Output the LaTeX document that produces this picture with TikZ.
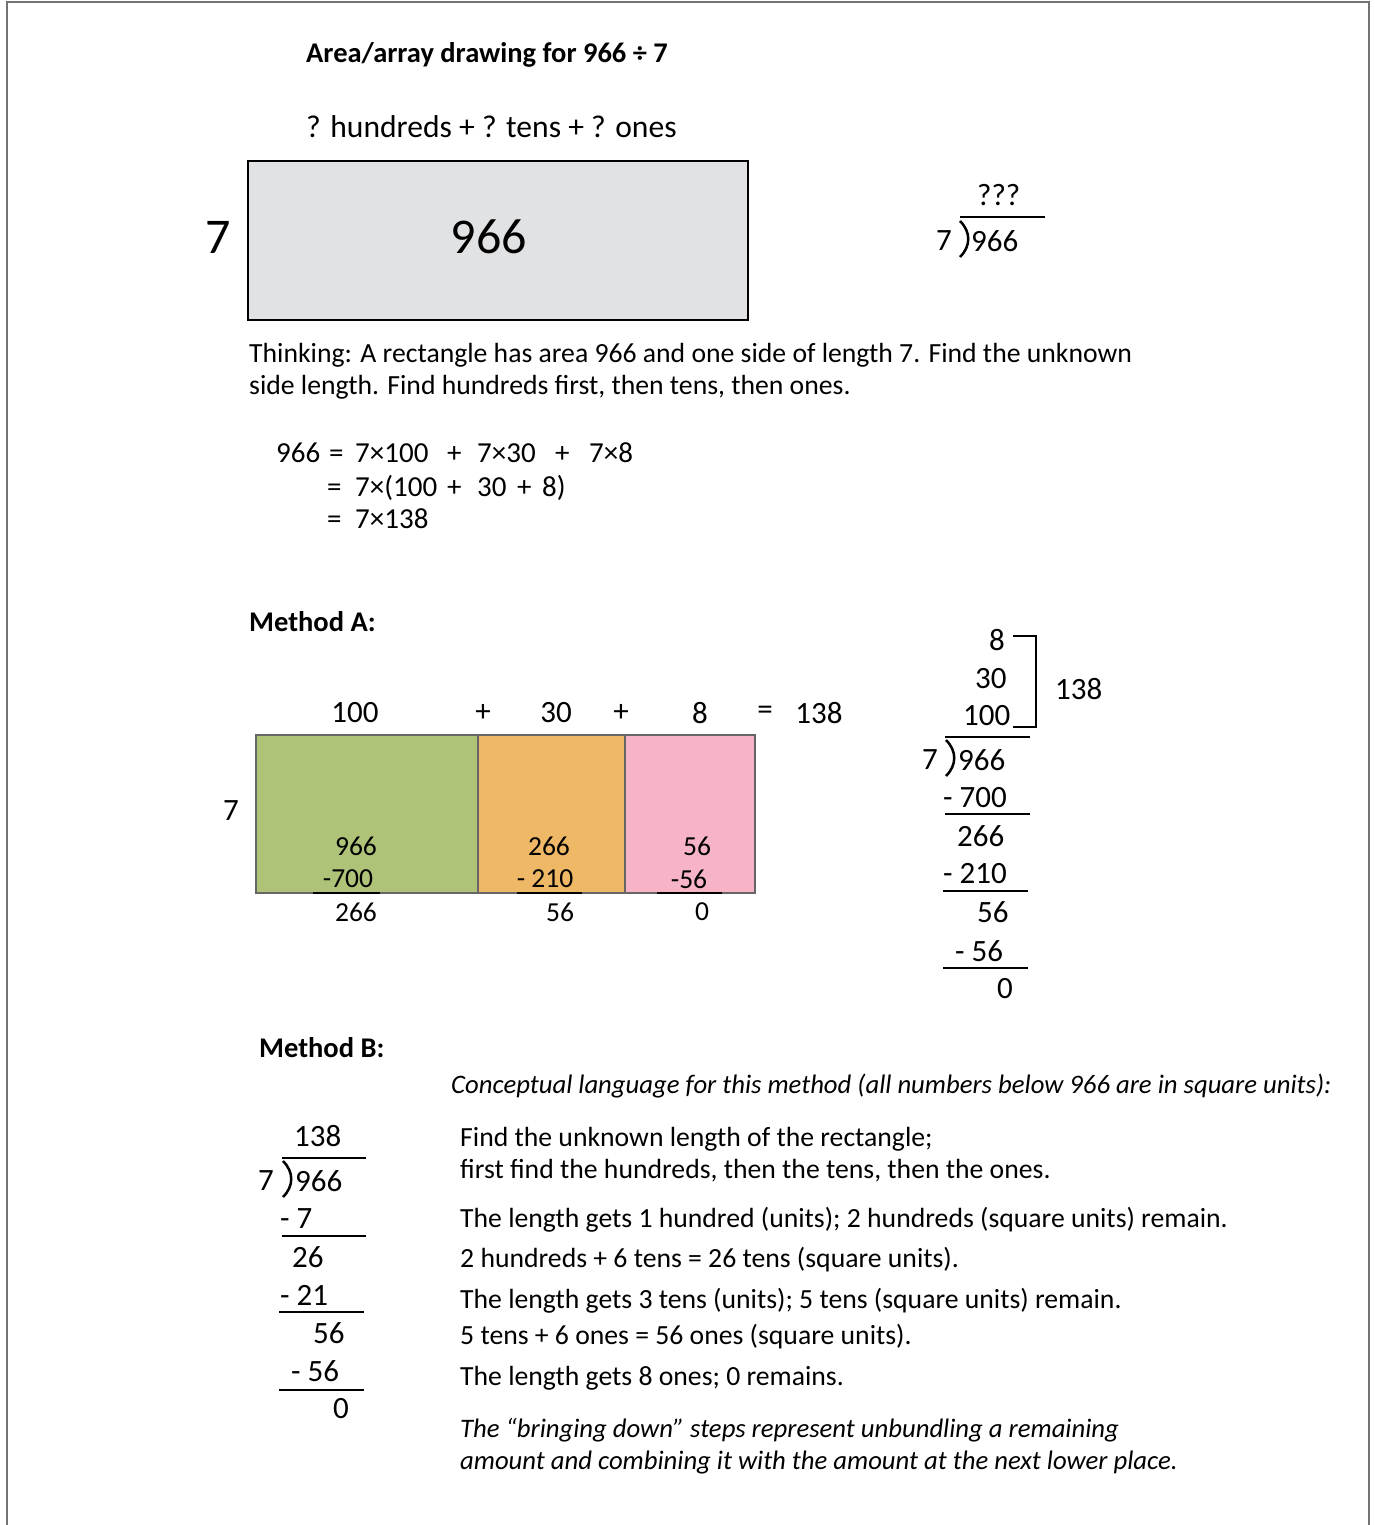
\documentclass[tikz,border=0pt]{standalone}
\usepackage{fontspec}
\setmainfont{Carlito}
\definecolor{areagray}{HTML}{E1E2E4}
\definecolor{hundredsgreen}{HTML}{AFC378}
\definecolor{tensorange}{HTML}{EFB867}
\definecolor{onespink}{HTML}{F7B4C6}
\tikzset{
  txt/.style={inner sep=0pt, anchor=base west, font=\fontsize{27.7}{33}\selectfont},
  note/.style={txt, font=\itshape\fontsize{26.7}{32}\selectfont},
  head/.style={inner sep=0pt, anchor=base west, font=\bfseries\fontsize{28.5}{34}\selectfont},
  num/.style={inner sep=0pt, anchor=west, font=\fontsize{31}{37}\selectfont},
  cell/.style={inner sep=0pt, font=\fontsize{27.5}{33}\selectfont},
  bar/.style={line width=2.5pt},
  hook/.style={line width=2.5pt},
  part/.style={draw=black!60, line width=2pt},
}
\begin{document}
\begin{tikzpicture}[x=1pt,y=-1pt]
\useasboundingbox (0,0) rectangle (1374,1525);
\draw[black!55, line width=1.5pt] (7,1525) -- (7,2) -- (1369,2) -- (1369,1525);

% area drawing
\node[head] (title) at (306,63) {Area/array drawing for 966 ÷ 7};
\node[txt, font=\fontsize{31.6}{38}\selectfont] (unknown) at (306,138) {? hundreds + ? tens + ? ones};
\draw[line width=2pt, fill=areagray] (248,161) rectangle (748,320);
\node[inner sep=0pt, font=\fontsize{50}{56}\selectfont] (area) at (489,237) {966};
\node[inner sep=0pt, font=\fontsize{50}{56}\selectfont] (side) at (218,237) {7};

\node[num] (q1) at (977,195) {???};
\node[num] (d1) at (936,241) {7};
\node[num] (n1) at (971,241) {966};
\draw[bar] (960,217) -- (1045,217);
\draw[hook] (960,221) .. controls (971,232) and (971,246) .. (960,257);

\node[txt] (think1) at (249,362) {Thinking: A rectangle has area 966 and one side of length 7. Find the unknown};
\node[txt] (think2) at (249,394) {side length. Find hundreds first, then tens, then ones.};

\foreach \x/\t [count=\i] in {276/966, 329/=, 355/7×100, 447/+, 477/7×30, 555/+, 589/7×8}
  \node[txt, font=\fontsize{29}{35}\selectfont] (eqa\i) at (\x,462) {\t};
\foreach \x/\t [count=\i] in {327/=, 355/7×(100, 447/+, 477/30, 517/+, 542/8)}
  \node[txt, font=\fontsize{29}{35}\selectfont] (eqb\i) at (\x,496) {\t};
\foreach \x/\t [count=\i] in {327/=, 355/7×138}
  \node[txt, font=\fontsize{29}{35}\selectfont] (eqc\i) at (\x,528) {\t};

% method A
\node[head] (methA) at (249,631) {Method A:};
\foreach \x/\t [count=\i] in {355/100, 483/+, 556/30, 621/+, 700/8, 765/=, 819/138}
  \node[cell, font=\fontsize{31}{37}\selectfont] (top\i) at (\x,713) {\t};
\node[cell, font=\fontsize{31}{37}\selectfont] (width) at (231,811) {7};
\draw[part, fill=hundredsgreen] (256,735) rectangle (478,893);
\draw[part, fill=tensorange] (478,735) rectangle (625,893);
\draw[part, fill=onespink] (625,735) rectangle (755,893);
\node[cell] (g1) at (356,846) {966};
\node[cell] (g2) at (348,879) {-700};
\node[cell] (g3) at (356,912) {266};
\node[cell] (o1) at (549,846) {266};
\node[cell] (o2) at (545,879) {- 210};
\node[cell] (o3) at (560,912) {56};
\node[cell] (p1) at (697,846) {56};
\node[cell] (p2) at (689,879) {-56};
\node[cell] (p3) at (702,912) {0};
\draw[bar] (313,893) -- (380,893);
\draw[bar] (517,893) -- (582,893);
\draw[bar] (657,893) -- (722,893);

\node[num] (a8) at (989,640) {8};
\node[num] (a30) at (975,679) {30};
\node[num] (a100) at (963,716) {100};
\draw[line width=1.5pt] (1013,636) -- (1036,636) -- (1036,727) -- (1013,727);
\node[num] (asum) at (1055,689) {138};
\draw[bar] (945,737) -- (1030,737);
\draw[hook] (946,740) .. controls (957,751) and (957,765) .. (946,776);
\node[num] (ad) at (922,760) {7};
\node[num] (an) at (958,760) {966};
\node[num] (as1) at (943,798) {- 700};
\draw[bar] (945,814) -- (1030,814);
\node[num] (ar1) at (957,836) {266};
\node[num] (as2) at (943,874) {- 210};
\draw[bar] (943,891) -- (1028,891);
\node[num] (ar2) at (977,912) {56};
\node[num] (as3) at (955,951) {- 56};
\draw[bar] (943,968) -- (1028,968);
\node[num] (ar3) at (997,989) {0};

% method B
\node[head] (methB) at (259,1057) {Method B:};
\node[note] (concept) at (451,1093) {Conceptual language for this method (all numbers below 966 are in square units):};

\node[num] (bq) at (294,1136) {138};
\draw[bar] (282,1158) -- (366,1158);
\draw[hook] (283,1161) .. controls (294,1172) and (294,1186) .. (283,1197);
\node[num] (bd) at (258,1181) {7};
\node[num] (bn) at (295,1181) {966};
\node[num] (bs1) at (280,1219) {- 7};
\draw[bar] (282,1236) -- (366,1236);
\node[num] (br1) at (292,1257) {26};
\node[num] (bs2) at (280,1295) {- 21};
\draw[bar] (279,1312) -- (364,1312);
\node[num] (br2) at (313,1333) {56};
\node[num] (bs3) at (291,1371) {- 56};
\draw[bar] (279,1390) -- (364,1390);
\node[num] (br3) at (333,1409) {0};

\node[txt] (step1) at (460,1146) {Find the unknown length of the rectangle;};
\node[txt] (step2) at (460,1178) {first find the hundreds, then the tens, then the ones.};
\node[txt] (step3) at (460,1227) {The length gets 1 hundred (units); 2 hundreds (square units) remain.};
\node[txt] (step4) at (460,1267) {2 hundreds + 6 tens = 26 tens (square units).};
\node[txt] (step5) at (460,1308) {The length gets 3 tens (units); 5 tens (square units) remain.};
\node[txt] (step6) at (460,1344) {5 tens + 6 ones = 56 ones (square units).};
\node[txt] (step7) at (460,1385) {The length gets 8 ones; 0 remains.};
\node[note] (note1) at (460,1437) {The “bringing down” steps represent unbundling a remaining};
\node[note] (note2) at (460,1469) {amount and combining it with the amount at the next lower place.};
\end{tikzpicture}
\end{document}
